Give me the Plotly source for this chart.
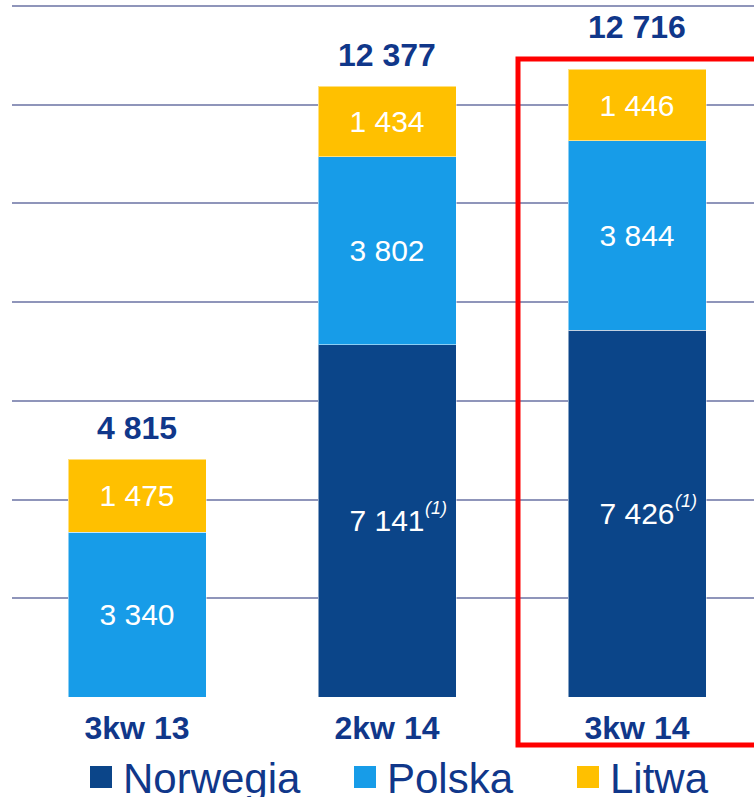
import plotly.graph_objects as go

# datos (tys. ton?) por trimestre
kwartaly = ['3kw 13', '2kw 14', '3kw 14']
norwegia = [None, 7141, 7426]
polska = [3340, 3802, 3844]
litwa = [1475, 1434, 1446]
sumy = [4815, 12377, 12716]

kolory = {'Norwegia': '#0B4589', 'Polska': '#179CE8', 'Litwa': '#FFC000'}
granat = '#10378A'
czcionka = 'Arial, Liberation Sans, sans-serif'

W, H = 754, 797
L, R, T, B = 12, 0, 3, 100


def px(x):
    # piksel -> wspolrzedne paper (poziomo)
    return (x - L) / (W - L - R)


def py(y):
    return (H - B - y) / (H - T - B)


def fmt(v):
    return '' if v is None else f'{v:,}'.replace(',', ' ')


fig = go.Figure()
for nazwa, dane in [('Norwegia', norwegia), ('Polska', polska), ('Litwa', litwa)]:
    fig.add_trace(go.Bar(
        x=kwartaly, y=dane, name=nazwa,
        marker=dict(color=kolory[nazwa], line=dict(color='rgba(255,255,255,0.5)', width=1)),
        text=[fmt(v) for v in dane], textposition='inside',
        insidetextanchor='middle',
        textfont=dict(family=czcionka, size=30, color='white'),
        hoverinfo='skip'))

# sumy nad slupkami (ostatnia podniesiona nad ramke)
for i, (k, s) in enumerate(zip(kwartaly, sumy)):
    fig.add_annotation(x=k, y=s, text=f'<b>{fmt(s)}</b>', showarrow=False,
                       yanchor='middle', yshift=42 if i == 2 else 31,
                       font=dict(family=czcionka, size=32, color=granat))

# przypisy (1) przy Norwegii
for k, v in zip(kwartaly, norwegia):
    if v is None:
        continue
    fig.add_annotation(x=k, y=v / 2, text='<i>(1)</i>', showarrow=False,
                       xanchor='left', yanchor='middle', xshift=36, yshift=13,
                       font=dict(family=czcionka, size=18, color='white'))

# ramka wokol 3kw 14
fig.add_shape(type='rect', xref='paper', yref='paper',
              x0=px(518), x1=px(770), y0=py(745), y1=py(59),
              line=dict(color='#FF0000', width=5))

# legenda recznie (duze kwadraty)
leg = [('Norwegia', 90), ('Polska', 354), ('Litwa', 577)]
for nazwa, x in leg:
    fig.add_shape(type='rect', xref='paper', yref='paper',
                  x0=px(x), x1=px(x + 22), y0=py(788), y1=py(766),
                  fillcolor=kolory[nazwa], line=dict(width=0))
    fig.add_annotation(xref='paper', yref='paper', x=px(x + 31), y=py(778),
                       text=nazwa, showarrow=False, xanchor='left', yanchor='middle',
                       font=dict(family=czcionka, size=42, color=granat))

fig.update_layout(
    width=W, height=H,
    margin=dict(l=L, r=R, t=T, b=B),
    barmode='stack', bargap=0.448,
    showlegend=False,
    plot_bgcolor='white', paper_bgcolor='white',
    font=dict(family=czcionka))

fig.update_xaxes(range=[-0.5, 2.468], showgrid=False, zeroline=False,
                 tickfont=dict(family=czcionka, size=32, color=granat, weight='bold'),
                 ticklabelstandoff=9)
fig.update_yaxes(range=[0, 14060], tickvals=list(range(0, 14001, 2000)),
                 showticklabels=False, zeroline=False,
                 gridcolor='#8F95BA', gridwidth=2)

# bez domyslnego marginesu strony (8px), zeby wykres zaczynal sie w rogu
fig.write_html('out.html', config={'displayModeBar': False},
               post_script="document.body.style.margin='0';document.body.style.overflow='hidden';")
